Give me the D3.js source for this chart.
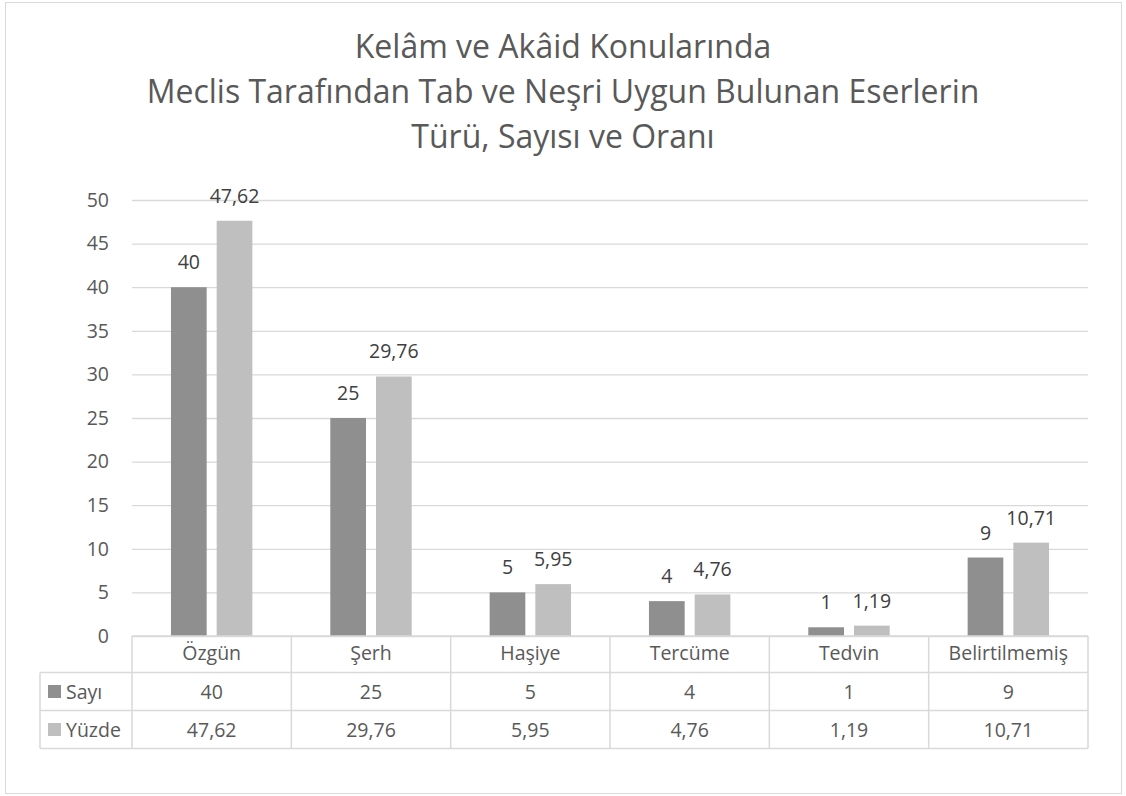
<!DOCTYPE html>
<html>
<head>
<meta charset="utf-8">
<script src="https://cdn.jsdelivr.net/npm/d3@7"></script>
<style>
  body { margin: 0; background: #fff; }
  svg text { font-family: 'Open Sans', sans-serif; }
</style>
</head>
<body>
<svg id="chart" width="1126" height="796"></svg>
<script>
const categories = ['Özgün', 'Şerh', 'Haşiye', 'Tercüme', 'Tedvin', 'Belirtilmemiş']
const sayi = [40, 25, 5, 4, 1, 9]
const yuzde = [47.62, 29.76, 5.95, 4.76, 1.19, 10.71]
const seriesNames = ['Sayı', 'Yüzde']
const yTicks = [0, 5, 10, 15, 20, 25, 30, 35, 40, 45, 50]
const titleLines = ['Kelâm ve Akâid Konularında', 'Meclis Tarafından Tab ve Neşri Uygun Bulunan Eserlerin', 'Türü, Sayısı ve Oranı']

const svg = d3.select('#chart')
const colors = ['#8f8f8f', '#bfbfbf']
const textColor = '#595959'
const gridColor = '#d9d9d9'
const fontSize = '19.5px'
const fmt = v => String(v).replace('.', ',')

const plotLeft = 132, plotRight = 1088, plotTop = 200, plotBottom = 636
const rowLines = [636, 672.5, 710.5, 748.5]

// cerceve
svg.append('rect')
  .attr('x', 5.5).attr('y', 2.5)
  .attr('width', 1116).attr('height', 791)
  .attr('fill', '#fff').attr('stroke', gridColor)

// baslik
svg.append('g').selectAll('text')
  .data(titleLines)
  .enter().append('text')
  .attr('x', 563)
  .attr('y', (d, i) => 58 + i * 45)
  .attr('text-anchor', 'middle')
  .style('font-size', '32px')
  .style('fill', textColor)
  .text(d => d)

const x = d3.scaleBand().domain(categories).range([plotLeft, plotRight])
const y = d3.scaleLinear().domain([0, 50]).range([plotBottom, plotTop])
const xs = d3.scaleBand().domain(seriesNames).range([0, 81.4]).paddingInner(0.219)

const yAxis = d3.axisLeft(y).tickValues(yTicks).tickSize(-(plotRight - plotLeft)).tickPadding(23)
const ga = svg.append('g')
  .attr('transform', `translate(${plotLeft},0)`)
  .call(yAxis)
ga.select('.domain').remove()
ga.selectAll('.tick line').attr('stroke', gridColor).attr('stroke-width', 1.3)
ga.selectAll('.tick text')
  .style('font-size', fontSize)
  .style('fill', textColor)
  .style('font-family', "'Open Sans', sans-serif")

const data = categories.map((c, i) => ({ cat: c, vals: [sayi[i], yuzde[i]] }))

const groups = svg.selectAll('g.cat')
  .data(data)
  .enter().append('g')
  .attr('class', 'cat')
  .attr('transform', d => `translate(${x(d.cat) + x.bandwidth() / 2 - 40.7},0)`)

groups.selectAll('rect')
  .data(d => d.vals.map((v, j) => ({ s: seriesNames[j], v, j })))
  .enter().append('rect')
  .attr('x', d => xs(d.s))
  .attr('width', xs.bandwidth())
  .attr('y', d => y(d.v))
  .attr('height', d => plotBottom - y(d.v))
  .attr('fill', d => colors[d.j])

groups.selectAll('text.lbl')
  .data(d => d.vals.map((v, j) => ({ s: seriesNames[j], v, j })))
  .enter().append('text')
  .attr('class', 'lbl')
  .attr('x', d => xs(d.s) + xs.bandwidth() / 2)
  .attr('y', d => y(d.v) - 18)
  .attr('text-anchor', 'middle')
  .style('font-size', fontSize)
  .style('fill', '#404040')
  .text(d => fmt(d.v))

// veri tablosu
const table = svg.append('g')
const line = (x1, y1, x2, y2) => table.append('line')
  .attr('x1', x1).attr('y1', y1).attr('x2', x2).attr('y2', y2)
  .attr('stroke', gridColor).attr('stroke-width', 1.5)

line(plotLeft, rowLines[0], plotRight, rowLines[0])
rowLines.slice(1).forEach(ry => line(40, ry, plotRight, ry))
line(40, rowLines[1], 40, rowLines[3])
categories.forEach(c => line(x(c), rowLines[0], x(c), rowLines[3]))
line(plotRight, rowLines[0], plotRight, rowLines[3])

table.selectAll('text.cat')
  .data(categories)
  .enter().append('text')
  .attr('x', d => x(d) + x.bandwidth() / 2)
  .attr('y', rowLines[0] + 24)
  .attr('text-anchor', 'middle')
  .style('font-size', fontSize)
  .style('fill', textColor)
  .text(d => d)

const rows = [sayi, yuzde]
rows.forEach((vals, r) => {
  const ry = rowLines[r + 1]
  table.append('rect')
    .attr('x', 48).attr('y', ry + 12.5)
    .attr('width', 13).attr('height', 13)
    .attr('fill', colors[r])
  table.append('text')
    .attr('x', 66).attr('y', ry + 26.5)
    .style('font-size', fontSize)
    .style('fill', textColor)
    .text(seriesNames[r])
  table.selectAll('text.v' + r)
    .data(vals)
    .enter().append('text')
    .attr('x', (d, i) => x(categories[i]) + x.bandwidth() / 2)
    .attr('y', ry + 26.5)
    .attr('text-anchor', 'middle')
    .style('font-size', fontSize)
    .style('fill', textColor)
    .text(d => fmt(d))
})
</script>
</body>
</html>
